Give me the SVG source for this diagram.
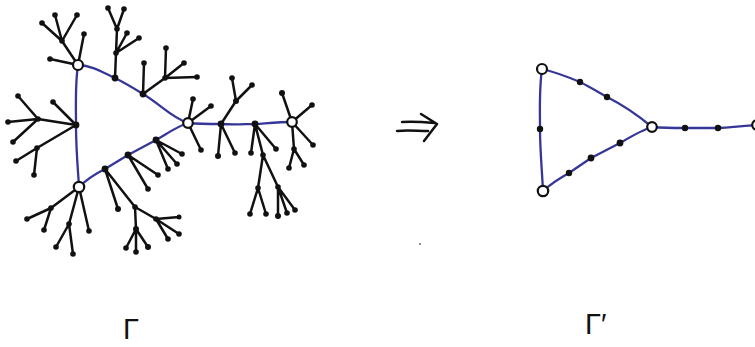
<svg xmlns="http://www.w3.org/2000/svg" width="755" height="347" viewBox="0 0 755 347">
<style>
.blue{fill:none;stroke:#36369a;stroke-width:2.3;stroke-linecap:round;stroke-linejoin:round}
.tree{fill:none;stroke:#111;stroke-width:2.5;stroke-linecap:round;stroke-linejoin:round}
.d{fill:#111}
.o{fill:#fff;stroke:#111;stroke-width:2.2}
.lbl{font-family:"Liberation Sans","DejaVu Sans",sans-serif;font-size:29px;fill:#111}
</style>
<rect width="755" height="347" fill="#fff"/>
<g id="connectors">
<path class="tree" d="M78,65 L50,59 M78,65 L84,34 M78,65 L62,41 M62,41 L42,23 M62,41 L55,15 M62,41 L77,15
M115,78 L116,53 L117,29 M117,29 L108,8 M117,29 L124,9 M116,53 L127,33 M116,53 L139,38
M143,94 L144,63 M143,94 L165,78 M165,78 L166,48 M165,78 L184,63 M165,78 L197,77
M76,125 L53,102 M76,125 L38,119 M38,119 L18,96 M38,119 L8,122 M38,119 L13,142 M76,125 L37,148 M37,148 L16,161 M37,148 L34,175
M79,187 L51,208 M51,208 L27,219 M51,208 L44,230 M79,187 L69,224 M69,224 L56,247 M69,224 L73,254 M79,187 L89,231
M105,169 L118,209 M105,169 L135,207 L156,219 M156,219 L179,217 M156,219 L179,234 M156,219 L168,239 M135,207 L136,229 M136,229 L126,248 M136,229 L136,252 M136,229 L148,247
M128,155 L148,189 M128,155 L158,175
M156,140 L182,154 M156,140 L177,164 M156,140 L168,169
M188,123 L193,99 M188,123 L211,106 M188,123 L201,150
M221,124 L236,101 M236,101 L232,78 M236,101 L252,85 M221,124 L218,156 M221,124 L235,153
M255,124 L251,153 M255,124 L276,149 M255,124 L263,155 L278,187 M263,155 L258,188 M258,188 L250,214 M258,188 L266,214 M278,187 L278,216 M278,187 L287,213 M278,187 L295,210
M292,122 L282,93 M292,122 L312,105 M292,122 L313,145 M292,122 L294,149 M294,149 L289,168 M294,149 L304,165"/>
<path class="blue" d="M78,65 C75,85 76,105 76,125 C76,150 78,170 79,187"/>
<path class="blue" d="M78,65 C95,66 105,74 115,78 C125,83 135,89 143,94 C160,104 172,118 188,123"/>
<path class="blue" d="M79,187 C88,178 97,173 105,169 L128,155 L156,140 C168,133 178,126 188,123"/>
<path class="blue" d="M188,123 C200,124 210,124 221,124 C235,125 245,124 255,124 C270,123 280,122 292,122"/>
<path class="blue" d="M542,69 C539,90 540,110 540,129 C540,150 542,170 543,191"/>
<path class="blue" d="M542,69 C555,72 568,77 580,82 C590,87 598,92 607,97 C625,106 640,117 652,127"/>
<path class="blue" d="M543,191 C552,183 560,178 569,173 L591,158 L620,143 C632,136 642,130 652,127"/>
<path class="blue" d="M652,127 C665,128 675,128 685,128 L718,128 C735,127 745,126 756,125"/>
<path class="tree" d="M402,122 C413,121 424,122 435,123 M397,131 C407,130 418,131 428,131 M421,114 L437,124 L424,141"/>
</g>
<g id="leaves-left">
<circle class="d" cx="50" cy="59" r="2.8"/><circle class="d" cx="84" cy="34" r="2.8"/><circle class="d" cx="62" cy="41" r="2.8"/><circle class="d" cx="42" cy="23" r="2.8"/><circle class="d" cx="55" cy="15" r="2.8"/><circle class="d" cx="77" cy="15" r="2.8"/>
<circle class="d" cx="116" cy="53" r="2.8"/><circle class="d" cx="117" cy="29" r="2.8"/><circle class="d" cx="108" cy="8" r="2.8"/><circle class="d" cx="124" cy="9" r="2.8"/><circle class="d" cx="127" cy="33" r="2.8"/><circle class="d" cx="139" cy="38" r="2.8"/>
<circle class="d" cx="144" cy="63" r="2.8"/><circle class="d" cx="165" cy="78" r="2.8"/><circle class="d" cx="166" cy="48" r="2.8"/><circle class="d" cx="184" cy="63" r="2.8"/><circle class="d" cx="197" cy="77" r="2.8"/>
<circle class="d" cx="53" cy="102" r="2.8"/><circle class="d" cx="38" cy="119" r="2.8"/><circle class="d" cx="18" cy="96" r="2.8"/><circle class="d" cx="8" cy="122" r="2.8"/><circle class="d" cx="13" cy="142" r="2.8"/><circle class="d" cx="37" cy="148" r="2.8"/><circle class="d" cx="16" cy="161" r="2.8"/><circle class="d" cx="34" cy="175" r="2.8"/>
<circle class="d" cx="51" cy="208" r="2.8"/><circle class="d" cx="27" cy="219" r="2.8"/><circle class="d" cx="44" cy="230" r="2.8"/><circle class="d" cx="69" cy="224" r="2.8"/><circle class="d" cx="56" cy="247" r="2.8"/><circle class="d" cx="73" cy="254" r="2.8"/><circle class="d" cx="89" cy="231" r="2.8"/>
<circle class="d" cx="118" cy="209" r="3"/><circle class="d" cx="135" cy="207" r="2.8"/><circle class="d" cx="156" cy="219" r="2.8"/><circle class="d" cx="179" cy="217" r="2.5"/><circle class="d" cx="179" cy="234" r="2.8"/><circle class="d" cx="168" cy="239" r="2.8"/><circle class="d" cx="136" cy="229" r="3"/><circle class="d" cx="126" cy="248" r="2.8"/><circle class="d" cx="136" cy="252" r="2.8"/><circle class="d" cx="148" cy="247" r="3"/>
<circle class="d" cx="148" cy="189" r="2.8"/><circle class="d" cx="158" cy="175" r="2.8"/>
<circle class="d" cx="182" cy="154" r="2.8"/><circle class="d" cx="177" cy="164" r="2.8"/><circle class="d" cx="168" cy="169" r="2.8"/>
<circle class="d" cx="193" cy="99" r="2.8"/><circle class="d" cx="211" cy="106" r="2.8"/><circle class="d" cx="201" cy="150" r="2.8"/>
<circle class="d" cx="236" cy="101" r="3"/><circle class="d" cx="232" cy="78" r="2.8"/><circle class="d" cx="252" cy="85" r="2.8"/><circle class="d" cx="218" cy="156" r="3"/><circle class="d" cx="235" cy="153" r="2.8"/>
<circle class="d" cx="251" cy="153" r="2.8"/><circle class="d" cx="276" cy="149" r="2.8"/><circle class="d" cx="263" cy="155" r="2.8"/><circle class="d" cx="258" cy="188" r="2.8"/><circle class="d" cx="278" cy="187" r="2.8"/><circle class="d" cx="250" cy="214" r="2.8"/><circle class="d" cx="266" cy="214" r="2.8"/><circle class="d" cx="278" cy="216" r="3"/><circle class="d" cx="287" cy="213" r="2.8"/><circle class="d" cx="295" cy="210" r="2.8"/>
<circle class="d" cx="282" cy="93" r="3"/><circle class="d" cx="312" cy="105" r="2.8"/><circle class="d" cx="313" cy="145" r="2.8"/><circle class="d" cx="294" cy="149" r="2.8"/><circle class="d" cx="289" cy="168" r="2.8"/><circle class="d" cx="304" cy="165" r="2.8"/>
</g>
<g id="n-B"><circle class="d" cx="76" cy="125" r="3.4"/></g>
<g id="n-t1"><circle class="d" cx="115" cy="78" r="3.4"/></g>
<g id="n-t2"><circle class="d" cx="143" cy="94" r="3.4"/></g>
<g id="n-b1"><circle class="d" cx="105" cy="169" r="3.4"/></g>
<g id="n-b2"><circle class="d" cx="128" cy="155" r="3.4"/></g>
<g id="n-b3"><circle class="d" cx="156" cy="140" r="3.4"/></g>
<g id="n-r1"><circle class="d" cx="221" cy="124" r="3.4"/></g>
<g id="n-r2"><circle class="d" cx="255" cy="124" r="3.4"/></g>
<g id="n-A"><circle class="o" cx="78" cy="65" r="5"/></g>
<g id="n-C"><circle class="o" cx="79" cy="187" r="5.2"/></g>
<g id="n-D"><circle class="o" cx="188" cy="123" r="4.8"/></g>
<g id="n-E"><circle class="o" cx="292" cy="122" r="4.8"/></g>
<g id="p-dots">
<circle class="d" cx="540" cy="129" r="3.2"/><circle class="d" cx="580" cy="82" r="3.2"/><circle class="d" cx="607" cy="97" r="3.2"/><circle class="d" cx="569" cy="173" r="3.2"/><circle class="d" cx="591" cy="158" r="3.4"/><circle class="d" cx="620" cy="143" r="3.4"/><circle class="d" cx="685" cy="128" r="3.2"/><circle class="d" cx="718" cy="128" r="3.2"/>
</g>
<g id="p-A"><circle class="o" cx="542" cy="69" r="5"/></g>
<g id="p-C"><circle class="o" cx="543" cy="191" r="5.2"/></g>
<g id="p-D"><circle class="o" cx="652" cy="127" r="4.8"/></g>
<g id="p-E"><circle class="o" cx="757" cy="125" r="4.8"/></g>
<circle cx="420" cy="244" r="0.9" fill="#555"/>
<text class="lbl" x="123" y="339">Γ</text>
<text class="lbl" x="585" y="334">Γ′</text>
</svg>
